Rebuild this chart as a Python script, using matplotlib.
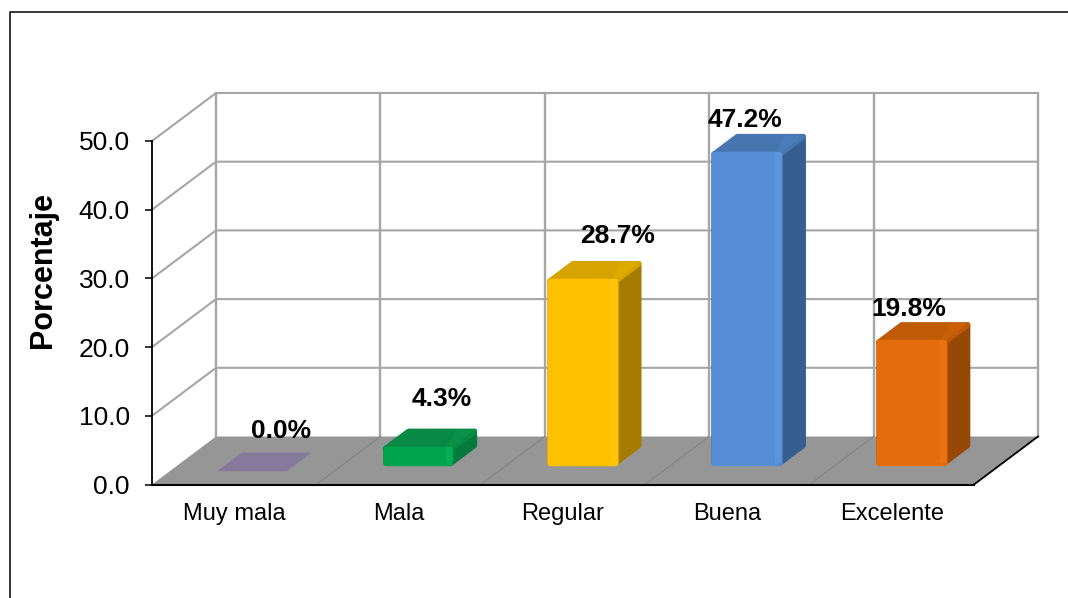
import matplotlib
matplotlib.use("Agg")
import matplotlib.pyplot as plt
from matplotlib.patches import Polygon
from matplotlib.lines import Line2D

plt.rcParams['font.family'] = ['Liberation Sans', 'DejaVu Sans']

categories = ['Muy mala', 'Mala', 'Regular', 'Buena', 'Excelente']
values = [0.0, 4.3, 28.7, 47.2, 19.8]
labels = ['0.0%', '4.3%', '28.7%', '47.2%', '19.8%']
y_ticks = [0, 10, 20, 30, 40, 50]

# styles
front_c = ['#857A9C', '#00A44E', '#FFC000', '#558ED5', '#E46C0A']
light_c = ['#857A9C', '#08AE56', '#FFC60C', '#5C94DA', '#EB7210']
top_c = ['#857A9C', '#088A44', '#D6A300', '#4775AF', '#BF5A07']
top2_c = ['#857A9C', '#0A9048', '#DDAA00', '#4B7BB8', '#C95F08']
side_c = ['#857A9C', '#067A3C', '#A67C00', '#365F91', '#974806']
dark_c = ['#857A9C', '#058A42', '#D9A300', '#4777B5', '#C25B08']
label_off = [(47, 53), (43, 56), (55, 51), (18, 40), (17, 39)]

W, H = 1068, 598
fig = plt.figure(figsize=(W / 100, H / 100), dpi=100, facecolor='white')
L, R, T, B = 152, 974, 141, 484.5
ax = fig.add_axes([L / W, 1 - B / H, (R - L) / W, (B - T) / H], facecolor='none')
ax.set_xlim(-0.5, 4.5)
ax.set_ylim(0, 50)

DX = 64 / ((R - L) / 5)          # full chart depth in category units
DY = 48 / ((B - T) / 50)         # full chart depth in value units


def P(x, v, d=0.0):
    return (x + d * DX, v + d * DY)


GRID = '#A6A6A6'
# floor
ax.add_patch(Polygon([P(-.5, 0), P(4.5, 0), P(4.5, 0, 1), P(-.5, 0, 1)],
                     fc='#969696', ec='none', zorder=1, clip_on=False))
for i in range(1, 5):
    a, b = P(i - .5, 0), P(i - .5, 0, 1)
    ax.plot([a[0], b[0]], [a[1], b[1]], color='#858585', lw=0.9, zorder=1.5, clip_on=False)
# walls
for t in y_ticks:
    if t:
        a, b, c = P(-.5, t), P(-.5, t, 1), P(4.5, t, 1)
        ax.plot([a[0], b[0], c[0]], [a[1], b[1], c[1]], color=GRID, lw=1.5, zorder=1,
                clip_on=False, solid_joinstyle='miter')
for i in range(6):
    a, b = P(i - .5, 0, 1), P(i - .5, 50, 1)
    ax.plot([a[0], b[0]], [a[1], b[1]], color=GRID, lw=1.7, zorder=1, clip_on=False)
# floor right edge
a, b = P(4.5, 0), P(4.5, 0, 1)
ax.plot([a[0], b[0]], [a[1], b[1]], color='black', lw=1.3, zorder=2, clip_on=False)

# bars (polygons shrunk a little, the thick round stroke gives soft corners)
HW, D0, D1 = 0.200, 0.31, 0.67
BASE, INSET = 1.0, 1.25
for i, v in enumerate(values):
    c = i
    if v == 0:
        ax.add_patch(Polygon([P(c - .205, 0, .29), P(c + .205, 0, .29),
                              P(c + .205, 0, .65), P(c - .205, 0, .65)],
                             fc=front_c[i], ec=front_c[i], lw=1.0, joinstyle='round',
                             zorder=3, clip_on=False))
        continue
    top = v - INSET
    z = 3 + i * 0.1
    kw = dict(joinstyle='round', lw=4, clip_on=False)
    ax.add_patch(Polygon([P(c + HW, BASE, D0), P(c + HW, BASE, D1),
                          P(c + HW, top, D1), P(c + HW, top, D0)],
                         fc=side_c[i], ec=side_c[i], zorder=z, **kw))
    ax.add_patch(Polygon([P(c - HW, top, D0), P(c + HW, top, D0),
                          P(c + HW, top, D1), P(c - HW, top, D1)],
                         fc=top_c[i], ec=top_c[i], zorder=z + .01, **kw))
    ax.add_patch(Polygon([P(c + HW * .45, top + .3, D1), P(c + HW, top + .3, D1),
                          P(c + HW, top, D0), P(c + HW * .85, top, D0)],
                         fc=top2_c[i], ec='none', zorder=z + .015, clip_on=False))
    ax.add_patch(Polygon([P(c - HW, BASE, D0), P(c + HW, BASE, D0),
                          P(c + HW, top, D0), P(c - HW, top, D0)],
                         fc=dark_c[i], ec=dark_c[i], zorder=z + .02, **kw))
    # main face and lighter bevel of the front
    ax.add_patch(Polygon([P(c - HW, BASE - .2, D0), P(c + HW, BASE - .2, D0),
                          P(c + HW, top, D0), P(c - HW, top, D0)],
                         fc=front_c[i], ec=front_c[i], joinstyle='round', lw=3.2,
                         zorder=z + .03, clip_on=False))
    ax.add_patch(Polygon([P(c + HW * .85, BASE, D0), P(c + HW * 1.03, BASE, D0),
                          P(c + HW * 1.03, top + .3, D0), P(c + HW * .85, top + .3, D0)],
                         fc=light_c[i], ec='none', zorder=z + .04, clip_on=False))

for i, (v, s) in enumerate(zip(values, labels)):
    ax.annotate(s, xy=(i, v), xytext=label_off[i], textcoords='offset pixels',
                ha='center', va='center', fontsize=19, fontweight='bold', color='black',
                zorder=10, annotation_clip=False)

# axes
for name in ('top', 'right'):
    ax.spines[name].set_visible(False)
ax.spines['left'].set_linewidth(1.3)
ax.spines['bottom'].set_linewidth(1.5)
ax.spines['left'].set_zorder(2)
ax.spines['bottom'].set_zorder(2)
ax.set_yticks(y_ticks)
ax.set_yticklabels([f'{t:.1f}' for t in y_ticks], fontsize=19)
ax.tick_params(axis='y', length=5, width=1.1, pad=11)
ax.set_xticks(range(5))
ax.set_xticklabels(categories, fontsize=17)
ax.tick_params(axis='x', length=0, pad=13)
ax.set_ylabel('Porcentaje', fontsize=22, fontweight='bold', va='center')
ax.yaxis.set_label_coords((43 - L) / (R - L), (B - 270) / (B - T))

# outer frame (only top and left edges are inside the picture)
fig.add_artist(Line2D([10 / W, 10 / W, 1], [0, 1 - 12 / H, 1 - 12 / H], color='black', lw=1.1))

fig.savefig('out.png', dpi=100)
